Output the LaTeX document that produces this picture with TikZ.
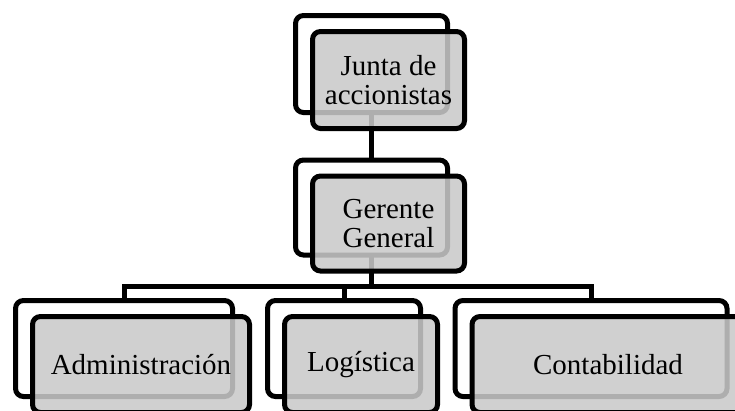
\documentclass[tikz,border=0pt]{standalone}
\usepackage{fontspec}
\setmainfont{Liberation Serif}
\begin{document}
\begin{tikzpicture}[x=1pt,y=-1pt,
	box/.style={draw,line width=5pt,rounded corners=8pt,inner sep=0pt,outer sep=0pt,minimum height=96pt},
	front/.style={box,fill=black!21,fill opacity=0.87,text opacity=1,align=center,font=\fontsize{29}{29}\selectfont},
	link/.style={line width=5pt}]
		\useasboundingbox (0,0) rectangle (735,410);
		\clip (0,0) rectangle (735,410);

		\node[box,minimum width=152pt,minimum height=97pt] (b0) at (371.5,64) {};
		\node[box,minimum width=152pt,minimum height=95pt] (b1) at (371.5,207.5) {};

		\node[box,minimum width=217pt] (b2) at (124,348.5) {};
		\node[box,minimum width=153pt] (b3) at (344,348.5) {};
		\node[box,minimum width=272pt] (b4) at (591,348.5) {};

		\coordinate (h) at (371.5,286.5);

		\draw[link] (b0) to (b1);
		\draw[link] (b1.south) -- (b1.south |- h) -| (b2.north);
		\draw[link] (b1.south |- h) -| (b3.north);
		\draw[link] (b1.south |- h) -| (b4.north);

		\node[front,minimum width=152pt,minimum height=97pt] (f0) at (388.5,80) {Junta de\\accionistas};
		\node[front,minimum width=152pt,minimum height=95pt] (f1) at (388.5,223.5) {Gerente\\General};

		\node[front,minimum width=217pt] (f2) at (141,364.5) {Administración};
		\node[front,minimum width=153pt] (f3) at (361,364.5) {Logística};
		\node[front,minimum width=272pt] (f4) at (608,364.5) {Contabilidad};
\end{tikzpicture}
\end{document}
